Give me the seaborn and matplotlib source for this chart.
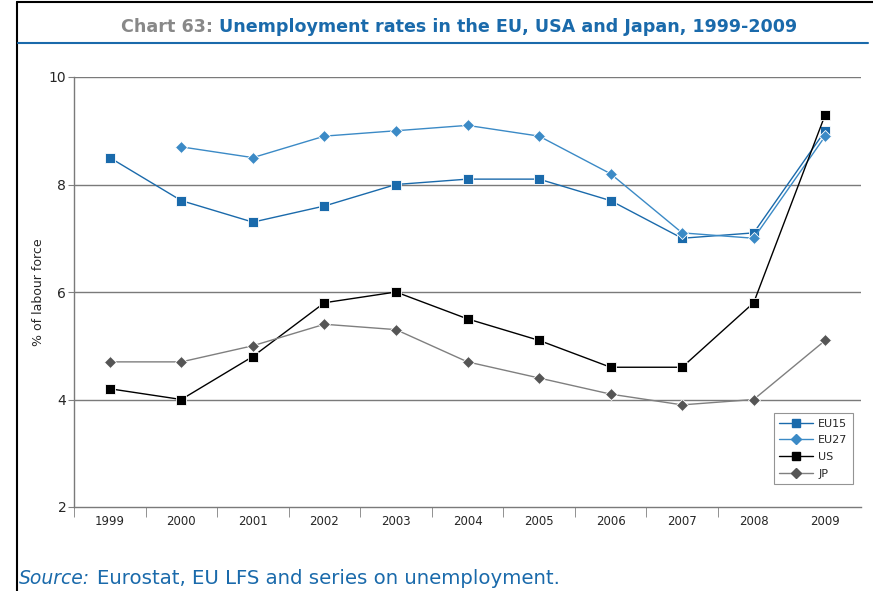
import numpy as np
import pandas as pd

import matplotlib.pyplot as plt
import matplotlib.lines as mlines
import seaborn as sns

years = list(range(1999, 2010))
eu15 = [8.5, 7.7, 7.3, 7.6, 8.0, 8.1, 8.1, 7.7, 7.0, 7.1, 9.0]
eu27 = [np.nan, 8.7, 8.5, 8.9, 9.0, 9.1, 8.9, 8.2, 7.1, 7.0, 8.9]
us = [4.2, 4.0, 4.8, 5.8, 6.0, 5.5, 5.1, 4.6, 4.6, 5.8, 9.3]
jp = [4.7, 4.7, 5.0, 5.4, 5.3, 4.7, 4.4, 4.1, 3.9, 4.0, 5.1]

BLUE = '#1a6aab'
LIGHTBLUE = '#3b8ac6'

sns.set_style('white')
plt.rcParams['font.family'] = ['DejaVu Sans']

fig = plt.figure(figsize=(8.73, 5.91), dpi=100)
ax = fig.add_axes([74 / 873, 1 - 507 / 591, (861 - 74) / 873, (507 - 77) / 591])

series = [
    ('EU15', eu15, BLUE, BLUE, 's', 7.0),
    ('EU27', eu27, LIGHTBLUE, LIGHTBLUE, 'D', 6.5),
    ('US', us, 'black', 'black', 's', 7.0),
    ('JP', jp, '#7f7f7f', '#555555', 'D', 6.5),
]
handles = []
for name, vals, lc, mc, mk, ms in series:
    df = pd.DataFrame({'year': years, 'val': vals}).dropna()
    sns.lineplot(data=df, x='year', y='val', ax=ax, color=lc, lw=1.0,
                 marker=mk, markersize=ms, markerfacecolor=mc,
                 markeredgecolor='white', markeredgewidth=0.6, zorder=3)
    handles.append(mlines.Line2D([], [], color=lc, lw=1.0, marker=mk,
                                 markersize=ms - 1, markerfacecolor=mc,
                                 markeredgecolor=mc, label=name))

ax.set_xlim(years[0] - 0.5, years[-1] + 0.5)
ax.set_ylim(2, 10)
ax.set_yticks([2, 4, 6, 8, 10])
ax.set_yticklabels(['2', '4', '6', '8', '10'], fontsize=10)
ax.set_xticks(years)
ax.set_xticklabels([str(y) for y in years], fontsize=8.5)
ax.set_xticks([y - 0.5 for y in years[:-1]], minor=True)
ax.tick_params(axis='x', which='major', length=0, pad=6)
ax.tick_params(axis='x', which='minor', length=7, color='#808080', direction='out', bottom=True)
ax.tick_params(axis='y', length=4, color='#808080', left=True, pad=1.5)
ax.set_xlabel('')
ax.set_ylabel('% of labour force', fontsize=9, labelpad=3)

for y in [4, 6, 8, 10]:
    ax.axhline(y, color='#7a7a7a', lw=1.0, zorder=1)
for s in ['top', 'right']:
    ax.spines[s].set_visible(False)
for s in ['left', 'bottom']:
    ax.spines[s].set_color('#7a7a7a')
    ax.spines[s].set_linewidth(1.0)

leg = ax.legend(handles=handles, loc='lower right', bbox_to_anchor=(0.997, 0.04),
                fontsize=8, frameon=True, fancybox=False, handlelength=3.0,
                labelspacing=0.6, borderpad=0.5, handletextpad=0.5)
leg.get_frame().set_edgecolor('#7a7a7a')
leg.get_frame().set_linewidth(0.8)

# page frame and title rule
fig.add_artist(mlines.Line2D([17 / 873, 17 / 873], [0, 1 - 2 / 591], color='black', lw=1.5))
fig.add_artist(mlines.Line2D([17 / 873, 1], [1 - 2 / 591, 1 - 2 / 591], color='black', lw=1.5))
fig.add_artist(mlines.Line2D([18 / 873, 868 / 873], [1 - 43 / 591, 1 - 43 / 591], color=BLUE, lw=1.5))

ty = 1 - 27 / 591
t1 = fig.text(0, ty, 'Chart 63: ', color='#888888', fontsize=12.6,
              fontweight='bold', va='center', ha='left')
t2 = fig.text(0, ty, 'Unemployment rates in the EU, USA and Japan, 1999-2009',
              color=BLUE, fontsize=12.6, fontweight='bold', va='center', ha='left')
fig.canvas.draw()
w1 = t1.get_window_extent().width
w2 = t2.get_window_extent().width
x0 = 459 - (w1 + w2) / 2
t1.set_x(x0 / 873)
t2.set_x((x0 + w1) / 873)

s1 = fig.text(19 / 873, 1 - 579 / 591, 'Source:', color=BLUE, fontsize=13.5,
              style='italic', va='center', ha='left')
fig.canvas.draw()
bb = s1.get_window_extent()
fig.text(bb.x1 / fig.bbox.width + 0.008, 1 - 579 / 591, 'Eurostat, EU LFS and series on unemployment.',
         color=BLUE, fontsize=14.2, va='center', ha='left')

fig.savefig('out.png', dpi=100)
